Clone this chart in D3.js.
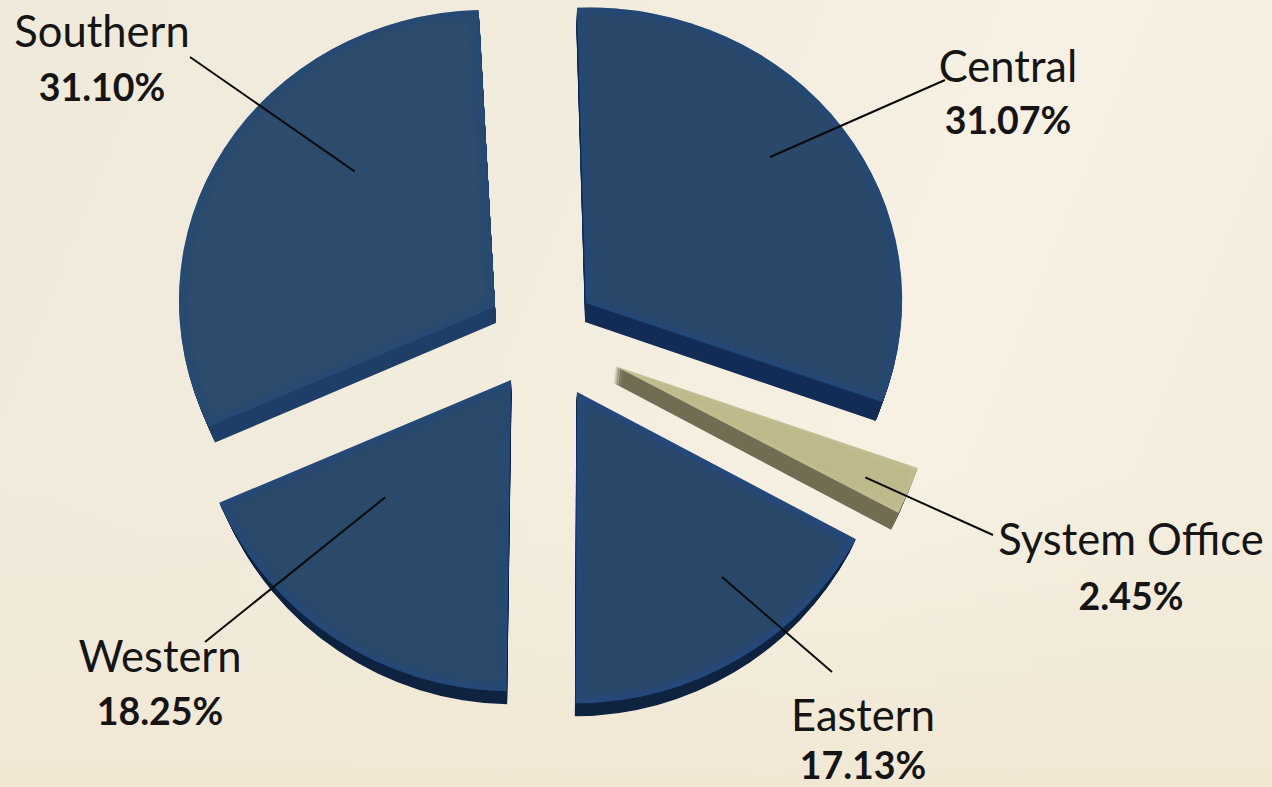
<!DOCTYPE html>
<html><head><meta charset="utf-8">
<script src="https://cdnjs.cloudflare.com/ajax/libs/d3/7.8.5/d3.min.js"></script>
<style>html,body{margin:0;padding:0;background:#f4eedf;overflow:hidden}svg{display:block}</style>
</head><body><svg id="c" width="1272" height="787"></svg>
<script>
// Data
const categories = ["Central","System Office","Eastern","Western","Southern"];
const shares = [31.07,2.45,17.13,18.25,31.10];
const shareLabels = ["31.07%","2.45%","17.13%","18.25%","31.10%"];

// Layout (not data)
const W=1272,H=787,R=316,vanishX=540;
const apexes=[[586,303],[615,366],[577,392],[511,380],[495,307]];
// perspective matrix of each face: [scaleX, shearY, shearX, scaleY]
const faceMatrix=[[1,0.012,-0.024,0.935],[1.012,0,0,1],[1.005,0.01,-0.016,0.985],[1.006,0.03,-0.026,0.985],[1,0.02,0,0.94]];
const depths=[19,17,13,13,16];
const topFill=["#2a486a","#bdb98b","#294869","#2b4a6b","#2d4b6c"];
const rimFill=["#1f4a86","#cfcca6","#24489a","#1f4a8a","#1f4a80"];
const sideFill=["#132d57","#736d54","#0f2440","#0f2440","#1f3f68"];
const labelPos=[[1008,82,134],[1131,555,610],[863,731,779],[160,672,725],[102,47,101]];
const leaderEnd=[[945,80],[993,535],[832,672],[205,642],[190,57]];
const leaderStart=[[51.6,235],[114,274],[141.9,235],[227,172],[314,195]]; // angle deg, radius from apex

const svg=d3.select("#c");
const defs=svg.append("defs");
const bg=defs.append("linearGradient").attr("id","bg").attr("x1",0).attr("y1",0).attr("x2",1).attr("y2",0.25);
[[0,"#f0eadb"],[0.45,"#f2ecdd"],[0.8,"#f6f1e3"],[1,"#f4eedf"]].forEach(s=>bg.append("stop").attr("offset",s[0]).attr("stop-color",s[1]));
svg.append("rect").attr("width",W).attr("height",H).attr("fill","url(#bg)");
const low=defs.append("linearGradient").attr("id","low").attr("x1",0).attr("y1",0).attr("x2",0).attr("y2",1);
low.append("stop").attr("offset",0.6).attr("stop-color","#f1e8d4").attr("stop-opacity",0);
low.append("stop").attr("offset",1).attr("stop-color","#f1e8d4").attr("stop-opacity",1);
svg.append("rect").attr("width",W).attr("height",H).attr("fill","url(#low)");
defs.append("filter").attr("id","soft").attr("x","-10%").attr("y","-10%").attr("width","120%").attr("height","120%")
  .append("feGaussianBlur").attr("stdDeviation",2.5);

const deg=Math.PI/180;
const pie=d3.pie().sort(null).startAngle(-3*deg).endAngle(357*deg);
const arcs=pie(shares);
const arc=d3.arc().innerRadius(0).outerRadius(R);

arcs.forEach((a,i)=>{
  const [ax,ay]=apexes[i],m=faceMatrix[i],d=arc(a);
  const g=svg.append("g").attr("class","slice");
  const steps=depths[i];
  for(let s=steps;s>=1;s--){
    const t=s/steps, sx=1-0.02*t;
    g.append("path").attr("d",d).attr("fill",sideFill[i])
      .attr("transform",`translate(${vanishX+(ax-vanishX)*sx},${ay+depths[i]*t}) matrix(${m[0]*sx},${m[1]},${m[2]*sx},${m[3]},0,0)`);
  }
  const tf=`translate(${ax},${ay}) matrix(${m[0]},${m[1]},${m[2]},${m[3]},0,0)`;
  defs.append("clipPath").attr("id","cl"+i).append("path").attr("d",d).attr("transform",tf);
  g.append("path").attr("d",d).attr("transform",tf).attr("fill",topFill[i]);
  g.append("g").attr("clip-path",`url(#cl${i})`).append("path").attr("d",d).attr("transform",tf)
    .attr("fill","none").attr("stroke",rimFill[i]).attr("stroke-width",i===1?3:12)
    .attr("opacity",i===1?0.5:0.42).attr("filter","url(#soft)");
});

const lines=svg.append("g");
arcs.forEach((a,i)=>{
  const [ang,r]=leaderStart[i];
  const p=d3.pointRadial(ang*deg,r);
  lines.append("line").attr("x1",apexes[i][0]+p[0]).attr("y1",apexes[i][1]+p[1])
    .attr("x2",leaderEnd[i][0]).attr("y2",leaderEnd[i][1])
    .attr("stroke","#0a0a0a").attr("stroke-width",2);
});
const font="Lato, Carlito, sans-serif";
categories.forEach((c,i)=>{
  const [x,y1,y2]=labelPos[i];
  svg.append("text").attr("x",x).attr("y",y1).attr("text-anchor","middle")
    .attr("font-family",font).attr("font-size",43.5).attr("fill","#151515").text(c);
  svg.append("text").attr("x",x).attr("y",y2).attr("text-anchor","middle")
    .attr("font-family",font).attr("font-weight",700).attr("font-size",37.5).attr("fill","#151515").text(shareLabels[i]);
});
</script></body></html>
